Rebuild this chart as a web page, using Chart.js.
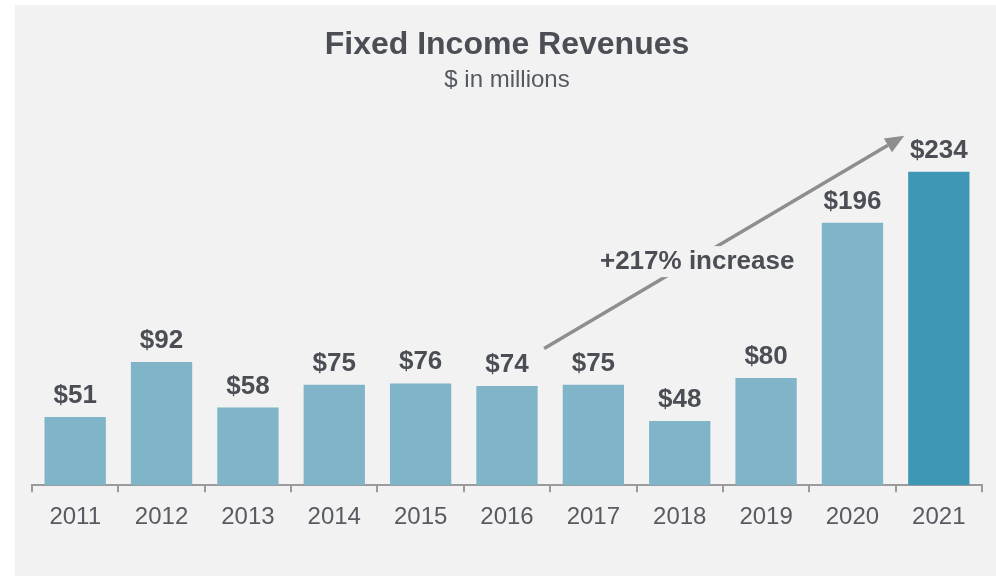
<!DOCTYPE html>
<html>
<head>
<meta charset="utf-8">
<script src="https://cdn.jsdelivr.net/npm/chart.js@4"></script>
<style>
    html, body { margin: 0; padding: 0; background: #ffffff; }
    #panel {
        position: absolute;
        left: 15px; top: 5px;
        width: 981px; height: 571px;
        background: #f2f2f2;
    }
</style>
</head>
<body>
<div id="panel"><canvas id="revenueChart"></canvas></div>
<script>
const years = ['2011', '2012', '2013', '2014', '2015', '2016', '2017', '2018', '2019', '2020', '2021'];
const revenues = [51, 92, 58, 75, 76, 74, 75, 48, 80, 196, 234];
const increaseLabel = '+217% increase';

const FONT = "'Liberation Sans', Arial, Helvetica, sans-serif";
const textColor = '#4b4f55';
const axisColor = '#9b9b9b';
const barLight = '#7fb4c9';
const barDark = '#3f97b6';
const panelBg = '#f2f2f2';

// value labels on top of each bar
const valueLabels = {
    id: 'valueLabels',
    afterDatasetsDraw(chart) {
        const ctx = chart.ctx;
        const meta = chart.getDatasetMeta(0);
        ctx.save();
        ctx.font = `bold 26px ${FONT}`;
        ctx.fillStyle = textColor;
        ctx.textAlign = 'center';
        ctx.textBaseline = 'alphabetic';
        meta.data.forEach((bar, i) => {
            ctx.fillText('$' + revenues[i], bar.x, bar.y - 14);
        });
        ctx.restore();
    }
};

// growth arrow from 2016 up to 2021
const growthArrow = {
    id: 'growthArrow',
    afterDatasetsDraw(chart) {
        const { ctx, scales: { x, y } } = chart;
        const x0 = x.getPixelForValue(5.43), y0 = y.getPixelForValue(102);
        const x1 = x.getPixelForValue(9.6), y1 = y.getPixelForValue(261);
        const ang = Math.atan2(y1 - y0, x1 - x0);
        const headLen = 19, headW = 8;
        const bx = x1 - headLen * Math.cos(ang), by = y1 - headLen * Math.sin(ang);

        ctx.save();
        ctx.strokeStyle = '#8e8e8e';
        ctx.fillStyle = '#8e8e8e';
        ctx.lineWidth = 3.5;
        ctx.beginPath();
        ctx.moveTo(x0, y0);
        ctx.lineTo(bx, by);
        ctx.stroke();

        ctx.beginPath();
        ctx.moveTo(x1, y1);
        ctx.lineTo(bx + headW * Math.sin(ang), by - headW * Math.cos(ang));
        ctx.lineTo(bx - headW * Math.sin(ang), by + headW * Math.cos(ang));
        ctx.closePath();
        ctx.fill();

        // label sits on the line, with a patch of background behind it
        const t = 0.425;
        const tx = x0 + (x1 - x0) * t, ty = y0 + (y1 - y0) * t + 3;
        ctx.font = `bold 26px ${FONT}`;
        const w = ctx.measureText(increaseLabel).width;
        ctx.fillStyle = panelBg;
        ctx.fillRect(tx - w / 2 - 2, ty - 15, w + 4, 31);
        ctx.fillStyle = textColor;
        ctx.textAlign = 'center';
        ctx.textBaseline = 'middle';
        ctx.fillText(increaseLabel, tx, ty + 1);
        ctx.restore();
    }
};

new Chart(document.getElementById('revenueChart').getContext('2d'), {
    type: 'bar',
    data: {
        labels: years,
        datasets: [{
            data: revenues,
            backgroundColor: revenues.map((v, i) => i === revenues.length - 1 ? barDark : barLight),
            borderWidth: 0,
            categoryPercentage: 1,
            barPercentage: 0.71
        }]
    },
    options: {
        responsive: true,
        maintainAspectRatio: false,
        animation: false,
        layout: { padding: { left: 17, right: 14, top: 0, bottom: 33 } },
        plugins: {
            legend: { display: false },
            tooltip: { enabled: false },
            title: {
                display: true,
                text: 'Fixed Income Revenues',
                color: textColor,
                font: { family: FONT, size: 32, weight: 'bold' },
                padding: { top: 21, bottom: 2 }
            },
            subtitle: {
                display: true,
                text: '$ in millions',
                color: '#555a60',
                font: { family: FONT, size: 24 },
                padding: { bottom: 11 }
            }
        },
        scales: {
            x: {
                border: { display: true, color: axisColor, width: 2 },
                grid: {
                    display: true,
                    offset: true,
                    drawOnChartArea: false,
                    drawTicks: true,
                    tickLength: 7,
                    color: axisColor,
                    lineWidth: 2
                },
                ticks: {
                    color: '#575b61',
                    padding: 11,
                    font: { family: FONT, size: 24 }
                }
            },
            y: {
                display: false,
                min: 0,
                max: 283
            }
        }
    },
    plugins: [valueLabels, growthArrow]
});
</script>
</body>
</html>
